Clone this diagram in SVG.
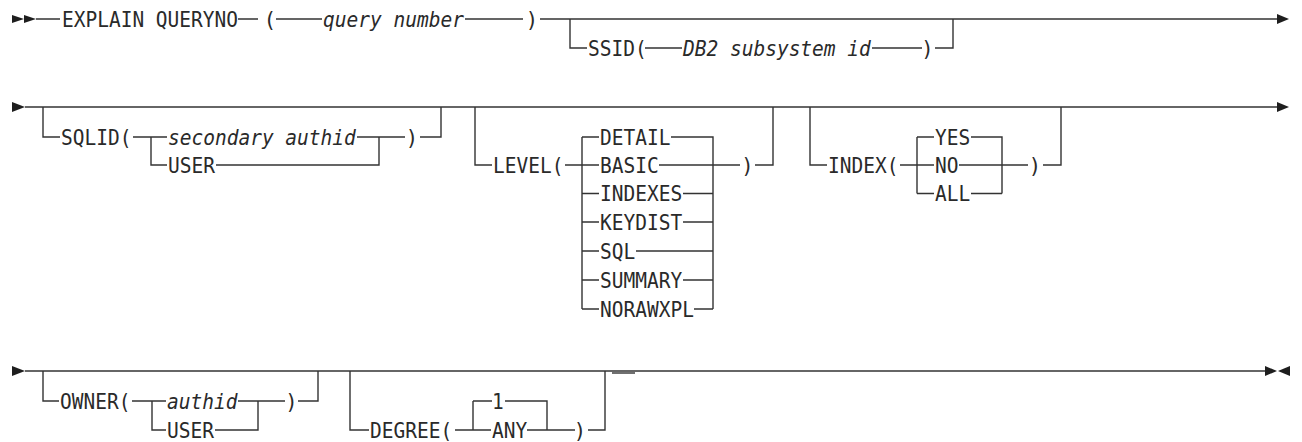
<svg xmlns="http://www.w3.org/2000/svg" width="1302" height="442" viewBox="0 0 1302 442">
<style>
text{font-family:"DejaVu Sans Mono","Liberation Mono",monospace;font-size:20.5px;fill:#2a2a2a}
.it{font-style:italic}
.m{text-anchor:middle}
.ln{fill:none;stroke:#333;stroke-width:1.4}
.ah{fill:#1e1e1e}
</style>
<rect width="1302" height="442" fill="#fff"/>
<g id="connectors">
<path class="ln" d="M36,19 H60 M238,19 H258 M276,19 H322 M465,19 H523 M540,19 H1277"/>
<path class="ln" d="M570,19 V48 H587 M645,48 H682 M872,48 H922 M935,48 H953 V19"/>
<path class="ln" d="M25,107 H1277"/>
<path class="ln" d="M43,107 V137 H60 M133,137 H167 M151,137 V165 H167 M357,137 H405 M216,165 H379 V137 M420,137 H441 V107"/>
<path class="ln" d="M475,107 V165 H492 M565,165 H599 M582,137 V309 M582,137 H599 M582,193.5 H599 M582,222 H599 M582,251 H599 M582,280 H599 M582,309 H599 M671,137 H713 V309 M659,165 H740 M683,193.5 H713 M683,222 H713 M636,251 H713 M683,280 H713 M694,309 H713 M755,165 H773 V107"/>
<path class="ln" d="M810,107 V165 H827 M900,165 H934 M917,137 V193.5 M917,137 H934 M917,193.5 H934 M971,137 H1002 V193.5 M959,165 H1028 M971,193.5 H1002 M1043,165 H1061 V107"/>
<path class="ln" d="M25,371 H1265"/>
<path class="ln" d="M43,371 V401 H59 M132,401 H166 M152,401 V430 H166 M238,401 H285 M215,430 H258 V401 M298,401 H318 V371"/>
<path class="ln" d="M350,371 V430 H369 M455,430 H491 M473,401 V430 M473,401 H492 M505,401 H547 V430 M527,430 H575 M588,430 H605 V371"/>
<path class="ln" d="M612,373 H635"/>
<polygon class="ah" points="12,15 24,19 12,23"/>
<polygon class="ah" points="24,15 36,19 24,23"/>
<polygon class="ah" points="1277,14 1289,19 1277,24"/>
<polygon class="ah" points="12,102 25,107 12,112"/>
<polygon class="ah" points="1277,102 1289,107 1277,112"/>
<polygon class="ah" points="12,366 25,371 12,376"/>
<polygon class="ah" points="1265,366 1277,371 1265,376"/>
<polygon class="ah" points="1290,366 1278,371 1290,376"/>
</g>
<g id="explain">
<text x="62" y="26.5" textLength="176" lengthAdjust="spacingAndGlyphs">EXPLAIN QUERYNO</text>
<text class="m" x="270" y="26.5">(</text>
<text class="it" x="323" y="26.5" textLength="141" lengthAdjust="spacingAndGlyphs">query number</text>
<text class="m" x="532" y="26.5">)</text>
</g>
<g id="ssid">
<text x="588" y="55.5" textLength="58.7" lengthAdjust="spacingAndGlyphs">SSID(</text>
<text class="it" x="683" y="55.5" textLength="187.8" lengthAdjust="spacingAndGlyphs">DB2 subsystem id</text>
<text class="m" x="927.5" y="55.5">)</text>
</g>
<g id="sqlid">
<text x="61" y="144.5" textLength="70.4" lengthAdjust="spacingAndGlyphs">SQLID(</text>
<text class="it" x="168" y="144.5" textLength="187.8" lengthAdjust="spacingAndGlyphs">secondary authid</text>
<text x="168" y="172.5" textLength="47" lengthAdjust="spacingAndGlyphs">USER</text>
<text class="m" x="412" y="144.5">)</text>
</g>
<g id="level">
<text x="493" y="172.5" textLength="70.4" lengthAdjust="spacingAndGlyphs">LEVEL(</text>
<text x="600" y="144.5" textLength="70.4" lengthAdjust="spacingAndGlyphs">DETAIL</text>
<text x="600" y="172.5" textLength="58.7" lengthAdjust="spacingAndGlyphs">BASIC</text>
<text x="600" y="201" textLength="82.2" lengthAdjust="spacingAndGlyphs">INDEXES</text>
<text x="600" y="229.5" textLength="82.2" lengthAdjust="spacingAndGlyphs">KEYDIST</text>
<text x="600" y="258.5" textLength="35.2" lengthAdjust="spacingAndGlyphs">SQL</text>
<text x="600" y="287.5" textLength="82.2" lengthAdjust="spacingAndGlyphs">SUMMARY</text>
<text x="600" y="316.5" textLength="93.9" lengthAdjust="spacingAndGlyphs">NORAWXPL</text>
<text class="m" x="747.5" y="172.5">)</text>
</g>
<g id="index">
<text x="828" y="172.5" textLength="70.4" lengthAdjust="spacingAndGlyphs">INDEX(</text>
<text x="935" y="144.5" textLength="35.2" lengthAdjust="spacingAndGlyphs">YES</text>
<text x="935" y="172.5" textLength="23.5" lengthAdjust="spacingAndGlyphs">NO</text>
<text x="935" y="201" textLength="35.2" lengthAdjust="spacingAndGlyphs">ALL</text>
<text class="m" x="1035" y="172.5">)</text>
</g>
<g id="owner">
<text x="60" y="408.5" textLength="70.4" lengthAdjust="spacingAndGlyphs">OWNER(</text>
<text class="it" x="167" y="408.5" textLength="70.4" lengthAdjust="spacingAndGlyphs">authid</text>
<text x="167" y="437.5" textLength="47" lengthAdjust="spacingAndGlyphs">USER</text>
<text class="m" x="291.5" y="408.5">)</text>
</g>
<g id="degree">
<text x="370" y="437.5" textLength="82.2" lengthAdjust="spacingAndGlyphs">DEGREE(</text>
<text x="492" y="408.5" textLength="11.7" lengthAdjust="spacingAndGlyphs">1</text>
<text x="492" y="437.5" textLength="35.2" lengthAdjust="spacingAndGlyphs">ANY</text>
<text class="m" x="580" y="437.5">)</text>
</g>
</svg>
